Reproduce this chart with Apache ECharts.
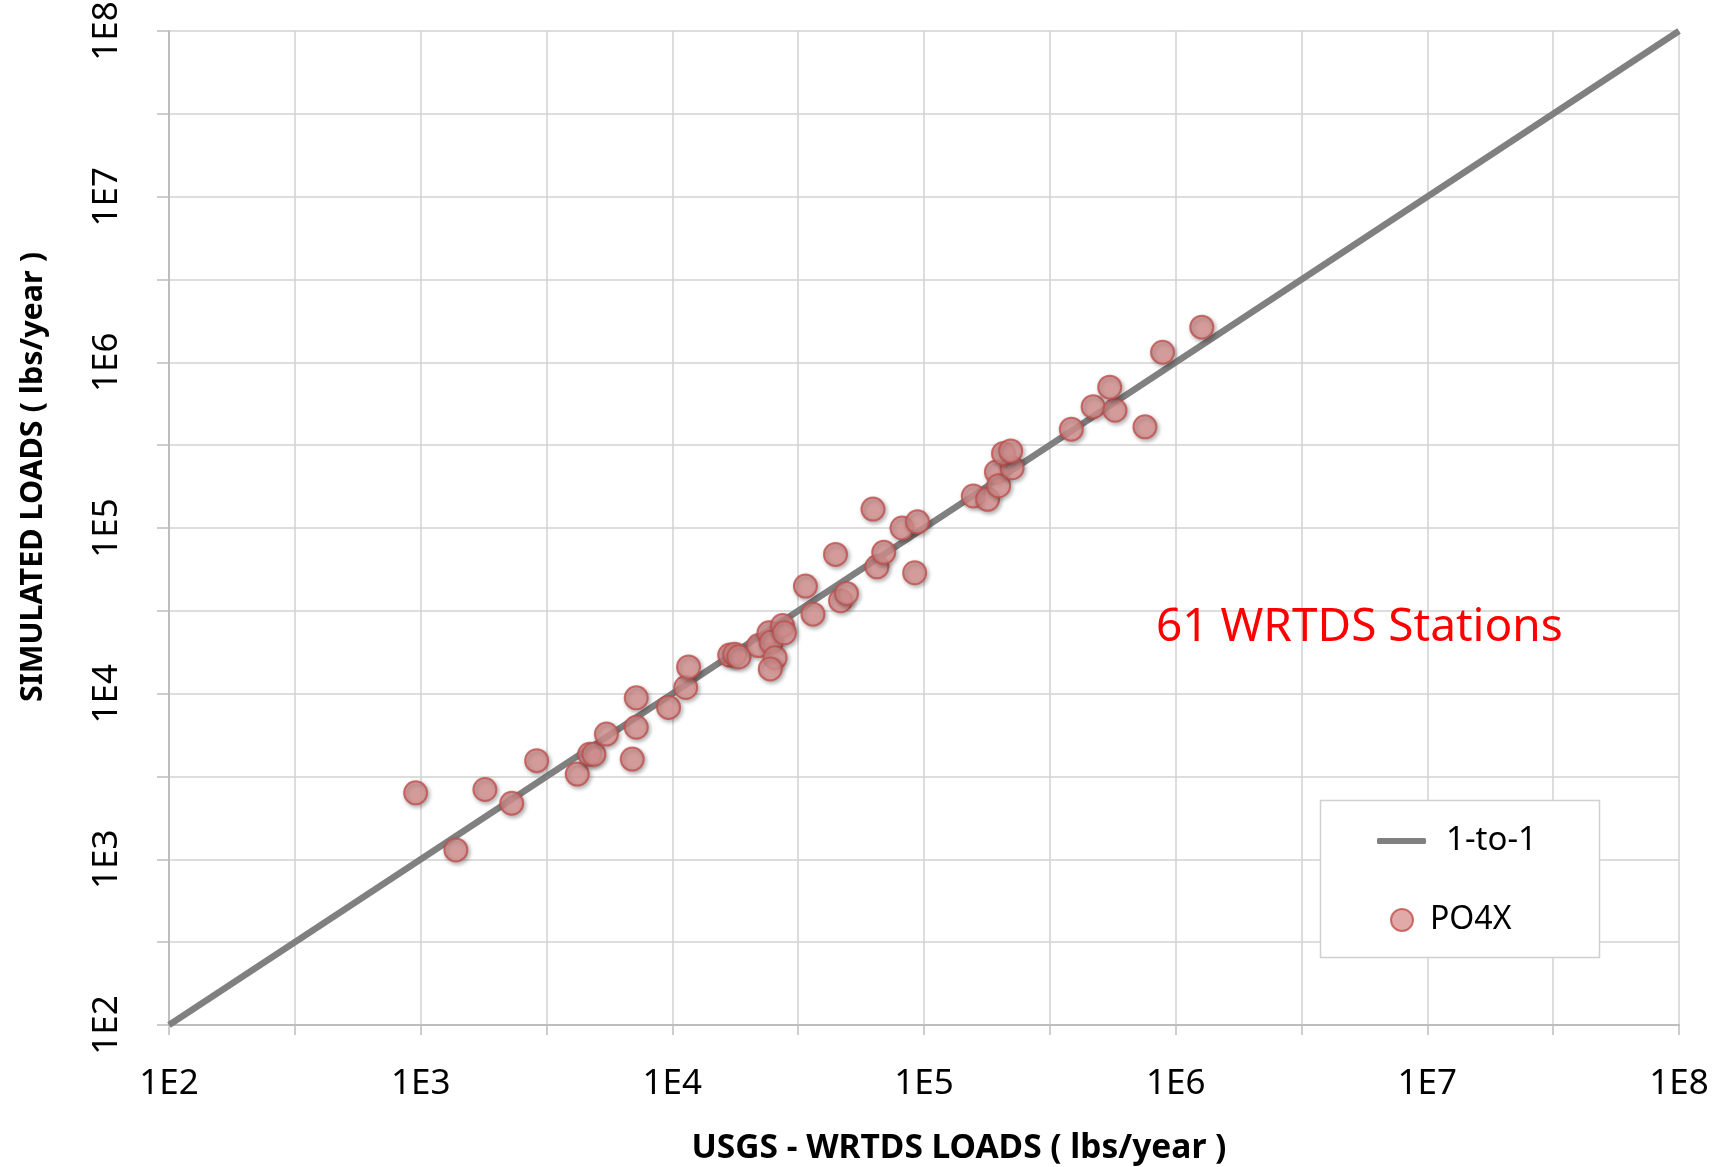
<!DOCTYPE html>
<html>
<head>
<meta charset="utf-8">
<script src="https://cdn.jsdelivr.net/npm/echarts@6/dist/echarts.min.js"></script>
<style>
html,body{margin:0;padding:0;background:#fff;}
#chart{width:1715px;height:1167px;}
</style>
</head>
<body>
<div id="chart"></div>
<script>
// USGS - WRTDS loads (lbs/year) for each visible station point
const usgsLoads = [955, 1380, 1800, 2300, 2890, 4190, 4690, 4880, 5470, 6930,
  7190, 7190, 9660, 11300, 11600, 16900, 17700, 18400, 22000, 24200,
  24700, 25600, 24500, 27400, 27900, 33800, 36200, 46600, 49200, 44500,
  65000, 69200, 91800, 62700, 81800, 94200, 157000, 179000, 194000, 198000,
  224000, 207000, 221000, 385000, 470000, 574000, 547000, 755000, 887000, 1270000];
// Simulated loads (lbs/year) for the same points
const simLoads = [2520, 1140, 2640, 2180, 3940, 3270, 4310, 4310, 5700, 4030,
  9440, 6270, 8260, 10900, 14500, 17100, 17300, 16700, 19500, 23300,
  20400, 16500, 14100, 25800, 23300, 44600, 30200, 36400, 40300, 69300,
  58300, 71300, 53700, 130000, 100000, 109000, 156000, 149000, 218000, 180000,
  231000, 282000, 292000, 395000, 540000, 514000, 708000, 408000, 1150000, 1630000];
// 1-to-1 reference line end points
const oneToOneX = [100, 100000000];
const oneToOneY = [100, 100000000];
// axis range
const axisMin = 100;
const axisMax = 100000000;
const seriesNames = ['1-to-1', 'PO4X'];
const annotation = '61 WRTDS Stations';
const xTitle = 'USGS - WRTDS LOADS ( lbs/year )';
const yTitle = 'SIMULATED LOADS ( lbs/year )';

const scatterData = usgsLoads.map((x, i) => [x, simLoads[i]]);
const lineData = oneToOneX.map((x, i) => [x, oneToOneY[i]]);

function fmt(v) {
  const e = Math.log10(v);
  const r = Math.round(e);
  return Math.abs(e - r) < 1e-6 ? '1E' + r : '';
}

const FONT = '"Noto Sans", "Open Sans", sans-serif';
const gridColor = '#d2d2d2';
const axisColor = '#bdbdbd';

const chart = echarts.init(document.getElementById('chart'), null, {renderer: 'canvas'});
chart.setOption({
  animation: false,
  backgroundColor: '#ffffff',
  grid: {left: 169, right: 36, top: 31, bottom: 142, containLabel: false, outerBoundsMode: 'none'},
  xAxis: {
    type: 'log',
    logBase: Math.sqrt(10),
    min: axisMin,
    max: axisMax,
    interval: 1,
    name: xTitle,
    nameLocation: 'middle',
    nameGap: 106,
    nameTextStyle: {fontFamily: FONT, fontSize: 33.5, fontWeight: 'bold', color: '#000', padding: [0, 0, 0, 70]},
    axisLine: {show: true, lineStyle: {color: axisColor, width: 2}},
    axisTick: {show: true, inside: false, length: 10, lineStyle: {color: axisColor, width: 1.5}},
    axisLabel: {show: true, formatter: fmt, fontFamily: FONT, fontSize: 35, color: '#000', margin: 42, showMinLabel: true, showMaxLabel: true, interval: 0},
    splitLine: {show: true, lineStyle: {color: gridColor, width: 1.5}}
  },
  yAxis: {
    type: 'log',
    logBase: Math.sqrt(10),
    min: axisMin,
    max: axisMax,
    interval: 1,
    name: yTitle,
    nameLocation: 'middle',
    nameGap: 120,
    nameTextStyle: {fontFamily: FONT, fontSize: 30.5, fontWeight: 'bold', color: '#000', padding: [0, 0, 0, 102]},
    axisLine: {show: true, lineStyle: {color: axisColor, width: 2}},
    axisTick: {show: true, inside: false, length: 12, lineStyle: {color: axisColor, width: 1.5}},
    axisLabel: {show: true, formatter: fmt, rotate: 90, fontFamily: FONT, fontSize: 35, color: '#000', margin: 44, showMinLabel: true, showMaxLabel: true, interval: 0},
    splitLine: {show: true, lineStyle: {color: gridColor, width: 1.5}}
  },
  legend: [
    {
      data: [{name: seriesNames[0], icon: 'roundRect', itemStyle: {color: '#808080'}}],
      left: 1377, top: 821,
      padding: 0,
      itemWidth: 49, itemHeight: 6,
      textStyle: {fontFamily: FONT, fontSize: 33, color: '#000', lineHeight: 40, padding: [0, 0, 0, 15]},
      selectedMode: false
    },
    {
      data: [{name: seriesNames[1], icon: 'circle'}],
      left: 1390, top: 900,
      padding: 0,
      itemWidth: 22, itemHeight: 22,
      textStyle: {fontFamily: FONT, fontSize: 32, color: '#000', lineHeight: 40, padding: [0, 0, 0, 12]},
      selectedMode: false
    }
  ],
  graphic: [
    {
      type: 'rect', z: 3,
      shape: {x: 1320.5, y: 800.5, width: 279, height: 157},
      style: {fill: '#ffffff', stroke: '#d0d0d0', lineWidth: 1.5}
    },
    {
      type: 'text', z: 5,
      x: 1156, y: 628,
      style: {text: annotation, fill: '#ff0000', fontFamily: FONT, fontSize: 46, textAlign: 'left', textVerticalAlign: 'middle', verticalAlign: 'middle'}
    }
  ],
  series: [
    {
      name: seriesNames[0],
      type: 'line',
      data: lineData,
      symbol: 'none',
      showSymbol: false,
      lineStyle: {color: '#808080', width: 6.5},
      itemStyle: {color: '#808080'},
      silent: true,
      z: 2
    },
    {
      name: seriesNames[1],
      type: 'scatter',
      data: scatterData,
      symbol: 'circle',
      symbolSize: 23,
      itemStyle: {
        color: '#d99594',
        borderColor: '#c0504d',
        borderWidth: 2,
        shadowBlur: 4,
        shadowOffsetX: 1.5,
        shadowOffsetY: 2,
        shadowColor: 'rgba(0,0,0,0.35)'
      },
      z: 3
    }
  ]
});
</script>
</body>
</html>
